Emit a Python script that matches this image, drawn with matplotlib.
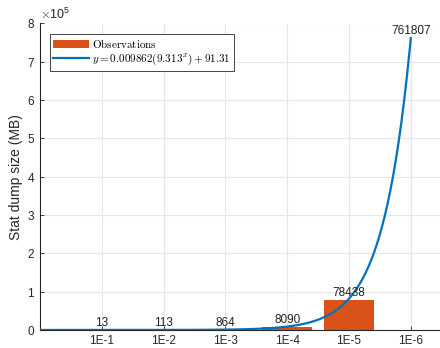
import numpy as np
import matplotlib
matplotlib.use("Agg")
import matplotlib.pyplot as plt

categories = ["1E-1", "1E-2", "1E-3", "1E-4", "1E-5", "1E-6"]
observed = [13, 113, 864, 8090, 78438]
predicted_last = 761807
labels = [13, 113, 864, 8090, 78438, 761807]
fit_a, fit_b, fit_c = 0.009862, 9.313, 91.31

plt.rcParams['font.family'] = ['Liberation Sans', 'DejaVu Sans']
plt.rcParams['mathtext.fontset'] = 'cm'

fig = plt.figure(figsize=(4.4, 3.48), dpi=100)
ax = fig.add_axes([40/440, 18/348, 7*61.8/440, 306.5/348])

pos = np.arange(1, len(categories) + 1)
orange = '#D95319'
blue = '#0072BD'

bars = ax.bar(pos[:len(observed)], observed, width=0.8, color=orange, zorder=2)

# fitted curve (offset so the curve hits the predicted value at the last category)
shift = np.log((predicted_last - fit_c) / fit_a) / np.log(fit_b) - pos[-1]
xs = np.linspace(0, pos[-1], 400)
ys = fit_a * fit_b ** (xs + shift) + fit_c
line, = ax.plot(xs, ys, color=blue, lw=1.6, zorder=3)

label_y = observed + [predicted_last]
for p, v, lab in zip(pos, label_y, labels):
    ax.text(p, v + 3000, str(lab), ha='center', va='bottom', fontsize=8.5, color='#222222', zorder=4)

ax.set_xlim(0, 7)
ax.set_ylim(0, 8e5)
ax.set_xticks(pos)
ax.set_xticklabels(categories)
ax.set_yticks(np.arange(0, 8.01e5, 1e5))
ax.ticklabel_format(style='sci', scilimits=(0, 0), axis='y', useMathText=True)
ax.yaxis.get_offset_text().set_fontsize(9)
ax.yaxis.get_offset_text().set_color('#262626')

ax.grid(True, color='#e6e6e6', lw=0.8, zorder=0)
ax.set_axisbelow(True)
for s in ['top', 'right']:
    ax.spines[s].set_visible(False)
for s in ['left', 'bottom']:
    ax.spines[s].set_color('#262626')
    ax.spines[s].set_linewidth(0.8)
ax.tick_params(direction='in', length=3, labelsize=8.5, colors='#262626', width=0.6)

ax.set_ylabel('Stat dump size (MB)', fontsize=10, color='#262626', labelpad=3)

leg = ax.legend([bars, line],
                [r'$\mathrm{Observations}$', r'$y = 0.009862(9.313^x) + 91.31$'],
                loc='upper left', bbox_to_anchor=(10/433, 1-10/306.5), fontsize=8,
                frameon=True, fancybox=False, edgecolor='#262626', framealpha=1,
                handlelength=3.2, handleheight=0.7, borderpad=0.3, labelspacing=0.2,
                handletextpad=0.3, borderaxespad=0)
leg.get_frame().set_linewidth(0.6)

fig.savefig('out.png', dpi=100)
